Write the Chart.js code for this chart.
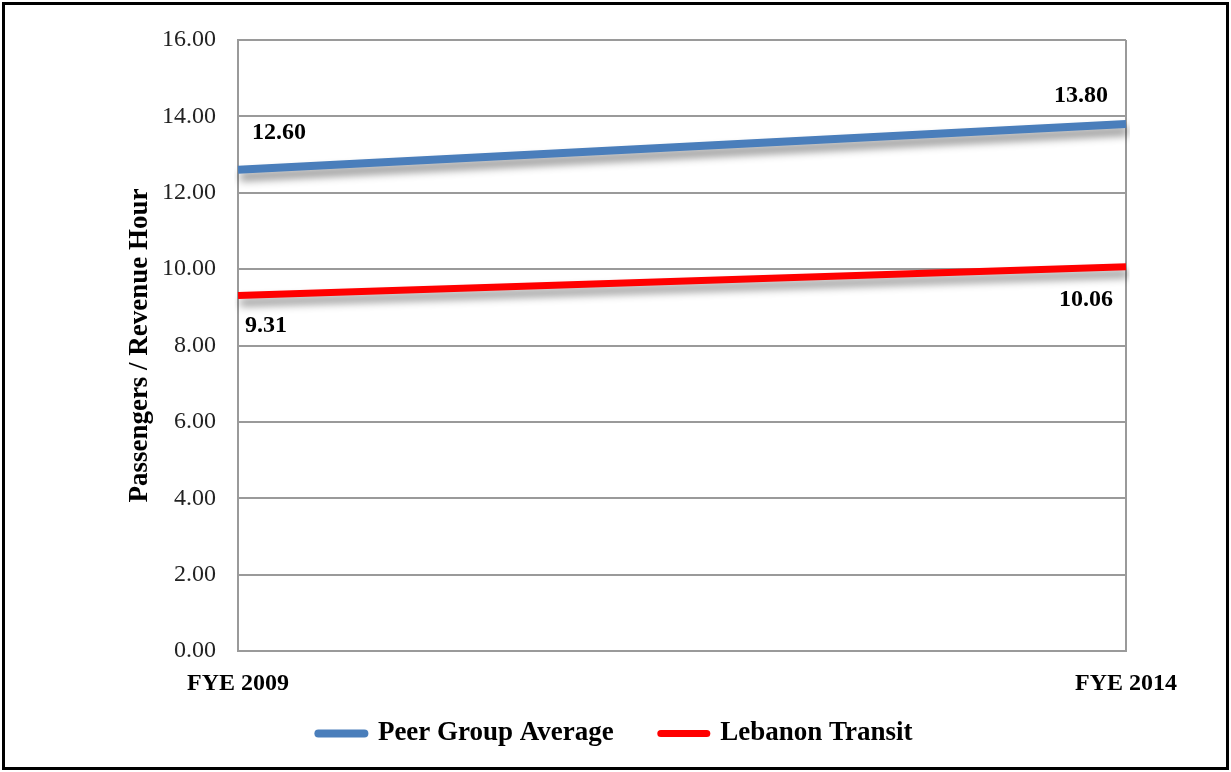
<!DOCTYPE html>
<html>
<head>
<meta charset="utf-8">
<script src="https://cdn.jsdelivr.net/npm/chart.js@4/dist/chart.umd.min.js"></script>
<style>
  html, body { margin: 0; padding: 0; background: #fff; }
  #wrap { position: absolute; left: 0; top: 0; width: 1231px; height: 772px; }
  #frame { position: absolute; left: 2px; top: 2px; width: 1227px; height: 768px; border: 3px solid #000; box-sizing: border-box; pointer-events: none; }
</style>
</head>
<body>
<div id="wrap"><canvas id="chart" width="1231" height="772"></canvas></div>
<div id="frame"></div>
<script>
// Data
const categories = ['FYE 2009', 'FYE 2014'];
const peerValues = [12.60, 13.80];
const lebanonValues = [9.31, 10.06];
const seriesNames = ['Peer Group Average', 'Lebanon Transit'];

const FONT = "'Liberation Serif', 'Times New Roman', serif";

// Label placement relative to each point [dx, dy, align]
const labelOffsets = [
  [[14, -37, 'left'], [-18, -28, 'right']],
  [[7, 30, 'left'], [-13, 33, 'right']]
];

// Shadow under the lines
const lineShadow = {
  id: 'lineShadow',
  beforeDatasetDraw(chart) {
    const ctx = chart.ctx;
    ctx.save();
    ctx.shadowColor = 'rgba(0, 0, 0, 0.45)';
    ctx.shadowBlur = 8;
    ctx.shadowOffsetX = 2;
    ctx.shadowOffsetY = 7;
  },
  afterDatasetDraw(chart) {
    chart.ctx.restore();
  }
};

// Value labels
const valueLabels = {
  id: 'valueLabels',
  afterDatasetsDraw(chart) {
    const ctx = chart.ctx;
    ctx.save();
    ctx.font = 'bold 24px ' + FONT;
    ctx.fillStyle = '#000';
    ctx.textBaseline = 'middle';
    chart.data.datasets.forEach((ds, i) => {
      chart.getDatasetMeta(i).data.forEach((pt, j) => {
        const [dx, dy, align] = labelOffsets[i][j];
        ctx.textAlign = align;
        ctx.fillText(ds.data[j].toFixed(2), pt.x + dx, pt.y + dy);
      });
    });
    ctx.restore();
  }
};

new Chart(document.getElementById('chart'), {
  type: 'line',
  data: {
    labels: categories,
    datasets: [
      {
        label: seriesNames[0],
        data: peerValues,
        borderColor: '#4A7EBB',
        backgroundColor: '#4A7EBB',
        borderWidth: 8,
        borderCapStyle: 'butt',
        pointRadius: 0,
        tension: 0
      },
      {
        label: seriesNames[1],
        data: lebanonValues,
        borderColor: '#FF0000',
        backgroundColor: '#FF0000',
        borderWidth: 7,
        borderCapStyle: 'butt',
        pointRadius: 0,
        tension: 0
      }
    ]
  },
  options: {
    responsive: false,
    animation: false,
    layout: { padding: { left: 0, right: 0, top: 40, bottom: 15 } },
    plugins: {
      legend: {
        position: 'bottom',
        labels: {
          usePointStyle: true,
          pointStyle: 'line',
          pointStyleWidth: 46,
          boxHeight: 10,
          padding: 20,
          color: '#000',
          font: { family: FONT, size: 27, weight: 'bold' },
          generateLabels(chart) {
            const items = Chart.defaults.plugins.legend.labels.generateLabels(chart);
            // round swatch ends; a little extra room after every item but the last
            return items.map((item, i) => ({
              ...item,
              lineCap: 'round',
              text: i < items.length - 1 ? item.text + '    ' : item.text
            }));
          }
        }
      },
      tooltip: { enabled: false }
    },
    scales: {
      x: {
        offset: false,
        grid: { color: '#9a9a9a', lineWidth: 2, drawTicks: false },
        border: { color: '#9a9a9a', width: 2 },
        ticks: {
          color: '#000',
          padding: 18,
          maxRotation: 0,
          font: { family: FONT, size: 24, weight: 'bold' }
        },
        afterFit(scale) { scale.height = 49; }
      },
      y: {
        min: 0,
        max: 16,
        grid: { color: '#9a9a9a', lineWidth: 2, drawTicks: false },
        border: { color: '#9a9a9a', width: 2 },
        ticks: {
          stepSize: 2,
          color: '#222',
          padding: 22,
          font: { family: FONT, size: 24 },
          callback: v => v.toFixed(2)
        },
        title: {
          display: true,
          text: 'Passengers / Revenue Hour',
          color: '#000',
          padding: { top: 124, bottom: 0 },
          font: { family: FONT, size: 27, weight: 'bold' }
        },
        afterFit(scale) { scale.width = 238; }
      },
      // empty right-hand space, keeps the legend centred on the page
      yRight: {
        position: 'right',
        grid: { display: false, drawTicks: false },
        border: { display: false },
        ticks: { display: false },
        afterFit(scale) { scale.width = 105; }
      }
    }
  },
  plugins: [lineShadow, valueLabels]
});
</script>
</body>
</html>
